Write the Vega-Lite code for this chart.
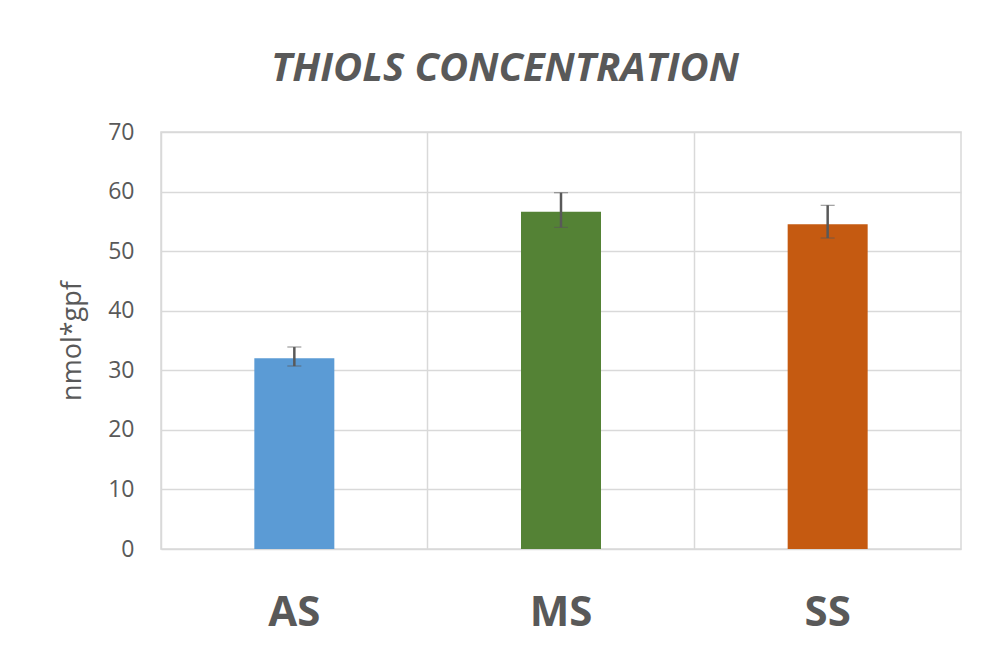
{
  "$schema": "https://vega.github.io/schema/vega-lite/v6.json",
  "width": 800,
  "height": 417,
  "autosize": "none",
  "padding": {"left": 161, "top": 132, "right": 22, "bottom": 108},
  "background": "white",
  "title": {
    "text": "THIOLS CONCENTRATION",
    "font": "Open Sans",
    "fontSize": 40,
    "fontWeight": "bold",
    "fontStyle": "italic",
    "color": "#595959",
    "anchor": "middle",
    "dx": -56,
    "offset": 32
  },
  "config": {
    "view": {"stroke": "#d9d9d9", "strokeWidth": 1.5},
    "axis": {"domain": false, "ticks": false, "gridColor": "#d9d9d9", "gridWidth": 1.5}
  },
  "data": {
    "values": [
      {"group": "AS", "value": 32.0, "low": 30.7, "high": 33.9},
      {"group": "MS", "value": 56.6, "low": 54.0, "high": 59.8},
      {"group": "SS", "value": 54.5, "low": 52.2, "high": 57.7}
    ]
  },
  "encoding": {
    "x": {
      "field": "group",
      "type": "nominal",
      "sort": null,
      "scale": {"paddingInner": 0, "paddingOuter": 0},
      "axis": {
        "title": null,
        "labelAngle": 0,
        "labelFont": "Open Sans",
        "labelFontSize": 42,
        "labelFontWeight": "bold",
        "labelColor": "#595959",
        "labelPadding": 43,
        "grid": true,
        "bandPosition": 0
      }
    }
  },
  "layer": [
    {
      "mark": {"type": "bar", "width": {"band": 0.3}},
      "encoding": {
        "y": {
          "field": "value",
          "type": "quantitative",
          "scale": {"domain": [0, 70]},
          "axis": {
            "title": "nmol*gpf",
            "titleFont": "Open Sans",
            "titleFontSize": 27,
            "titleFontWeight": "normal",
            "titleColor": "#595959",
            "titlePadding": 21,
            "labelFont": "Open Sans",
            "labelFontSize": 23,
            "labelColor": "#595959",
            "labelPadding": 27,
            "labelOverlap": false,
            "values": [0, 10, 20, 30, 40, 50, 60, 70]
          }
        },
        "color": {
          "field": "group",
          "type": "nominal",
          "scale": {"domain": ["AS", "MS", "SS"], "range": ["#5B9BD5", "#548235", "#C55A11"]},
          "legend": null
        }
      }
    },
    {
      "mark": {"type": "errorbar", "ticks": {"size": 14, "color": "#595959", "strokeWidth": 2.5}, "rule": {"color": "#595959", "strokeWidth": 2.5}},
      "encoding": {
        "y": {"field": "low", "type": "quantitative", "axis": {"title": "nmol*gpf"}},
        "y2": {"field": "high"}
      }
    }
  ]
}
